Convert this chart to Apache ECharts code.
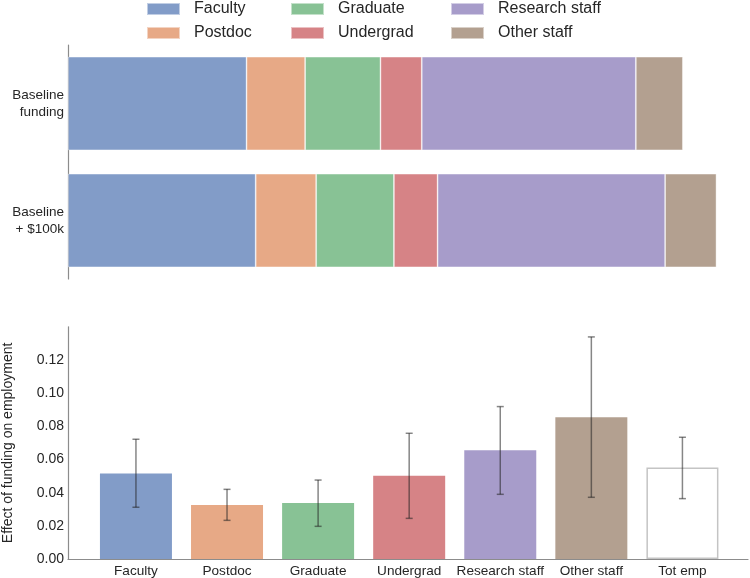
<!DOCTYPE html>
<html>
<head>
<meta charset="utf-8">
<script src="https://cdn.jsdelivr.net/npm/echarts@6/dist/echarts.min.js"></script>
<style>html,body{margin:0;padding:0;background:#fff}#c{width:750px;height:578px}</style>
</head>
<body>
<div id="c"></div>
<script>
// ---- data ----
var groups = ['Faculty', 'Postdoc', 'Graduate', 'Undergrad', 'Research staff', 'Other staff'];
var scenarios = ['Baseline\nfunding', 'Baseline\n+ $100k'];
var baseline = [3.72, 1.22, 1.57, 0.86, 4.46, 0.98];
var plus100k = [3.91, 1.26, 1.62, 0.91, 4.74, 1.07];
var effectCats = ['Faculty', 'Postdoc', 'Graduate', 'Undergrad', 'Research staff', 'Other staff', 'Tot emp'];
var effect = [0.0515, 0.0326, 0.0338, 0.0502, 0.0655, 0.0855, 0.0551];
var errLow = [0.0312, 0.0233, 0.0197, 0.0245, 0.0390, 0.0372, 0.0364];
var errHigh = [0.0722, 0.0420, 0.0476, 0.0758, 0.0919, 0.1339, 0.0734];
var yTicks = [0, 0.02, 0.04, 0.06, 0.08, 0.10, 0.12];

// ---- styling ----
var colors = ['#829cc8', '#e7a986', '#88c295', '#d68386', '#a79cca', '#b3a090'];
var font = 'Liberation Sans, Arial, sans-serif';
var axisGray = '#8c8c8c';

var chart = echarts.init(document.getElementById('c'), null, {renderer: 'canvas'});

var stackSeries = groups.map(function (g, i) {
  return {
    name: g, type: 'bar', stack: 'tot', xAxisIndex: 0, yAxisIndex: 0,
    barWidth: '80%',
    itemStyle: {color: colors[i], borderColor: 'rgba(255,255,255,0.5)', borderWidth: 0.8},
    data: [baseline[i], plus100k[i]]
  };
});

var barData = effect.map(function (v, i) {
  return {
    value: [i, v],
    itemStyle: i < colors.length ? {color: colors[i]} : {color: '#ffffff', borderColor: '#c4c4c4', borderWidth: 1.5}
  };
});

var errData = effect.map(function (v, i) { return [i, errLow[i], errHigh[i]]; });

function legendBlock(left, names) {
  return {
    orient: 'vertical', left: left, top: 1, padding: 0, itemWidth: 33, itemHeight: 12, itemGap: 8,
    icon: 'rect', data: names, selectedMode: false,
    textStyle: {fontFamily: font, fontSize: 16, color: '#262626', padding: [0, 0, 0, 9]}
  };
}

var option = {
  animation: false,
  backgroundColor: '#ffffff',
  color: colors,
  legend: [
    legendBlock(146, ['Faculty', 'Postdoc']),
    legendBlock(290, ['Graduate', 'Undergrad']),
    legendBlock(450, ['Research staff', 'Other staff'])
  ],
  grid: [
    {left: 68, right: 10, top: 45, height: 234, outerBoundsMode: 'none'},
    {left: 68, right: 2, top: 326.8, bottom: 19, outerBoundsMode: 'none'}
  ],
  xAxis: [
    {type: 'value', gridIndex: 0, min: 0, max: 14, show: false},
    {
      type: 'value', gridIndex: 1, min: -0.746, max: 6.72,
      axisLine: {show: true, onZero: false, lineStyle: {color: axisGray, width: 1.2}},
      axisTick: {show: false}, splitLine: {show: false},
      axisLabel: {
        customValues: [0, 1, 2, 3, 4, 5, 6],
        formatter: function (v) { return effectCats[Math.round(v)] || ''; },
        fontFamily: font, fontSize: 13.6, color: '#262626', margin: 5
      }
    }
  ],
  yAxis: [
    {
      type: 'category', gridIndex: 0, data: scenarios, inverse: true,
      axisLine: {show: true, onZero: false, lineStyle: {color: axisGray, width: 1.2}},
      axisTick: {show: false},
      axisLabel: {fontFamily: font, fontSize: 13.5, color: '#262626', lineHeight: 17, margin: 4, align: 'right'}
    },
    {
      type: 'value', gridIndex: 1, min: 0, max: 0.14, interval: 0.02,
      axisLine: {show: true, onZero: false, lineStyle: {color: axisGray, width: 1.2}},
      axisTick: {show: false}, splitLine: {show: false},
      axisLabel: {
        fontFamily: font, fontSize: 14, color: '#262626', margin: 4,
        formatter: function (v) {
          for (var k = 0; k < yTicks.length; k++) { if (Math.abs(yTicks[k] - v) < 1e-9) return yTicks[k].toFixed(2); }
          return '';
        }
      },
      name: 'Effect of funding on employment', nameLocation: 'middle', nameGap: 53,
      nameTextStyle: {fontFamily: font, fontSize: 14, color: '#262626'}
    }
  ],
  series: stackSeries.concat([
    {
      name: 'effect', type: 'bar', xAxisIndex: 1, yAxisIndex: 1, barWidth: 72,
      data: barData
    },
    {
      name: 'err', type: 'custom', xAxisIndex: 1, yAxisIndex: 1, z: 10,
      data: errData,
      renderItem: function (params, api) {
        var x = api.value(0);
        var lo = api.coord([x, api.value(1)]);
        var hi = api.coord([x, api.value(2)]);
        var hw = 3.5;
        var st = {stroke: 'rgba(35,35,35,0.55)', lineWidth: 1.5};
        return {
          type: 'group',
          children: [
            {type: 'line', shape: {x1: lo[0], y1: lo[1], x2: hi[0], y2: hi[1]}, style: st},
            {type: 'line', shape: {x1: lo[0] - hw, y1: lo[1], x2: lo[0] + hw, y2: lo[1]}, style: st},
            {type: 'line', shape: {x1: hi[0] - hw, y1: hi[1], x2: hi[0] + hw, y2: hi[1]}, style: st}
          ]
        };
      }
    }
  ])
};
chart.setOption(option);
</script>
</body>
</html>
